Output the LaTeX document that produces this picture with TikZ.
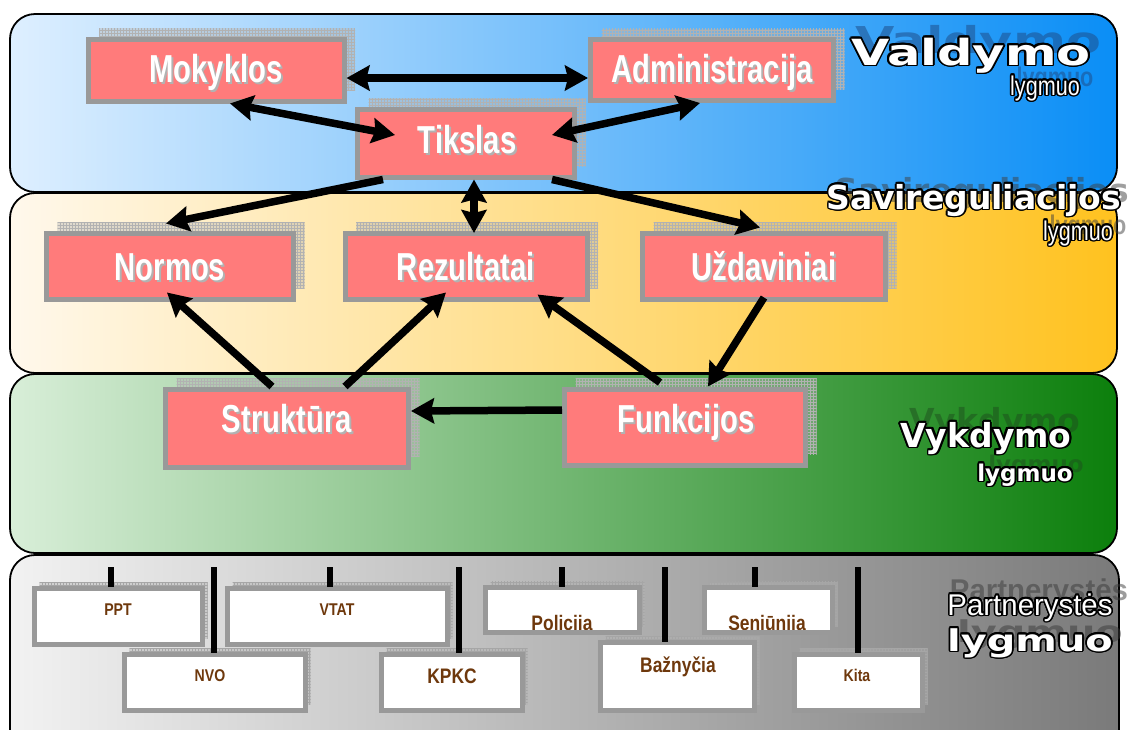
\documentclass[tikz,border=0pt]{standalone}
\usepackage{fontspec}
\setmainfont{Liberation Sans}
\newfontfamily\boxfont[FakeStretch=0.75]{Liberation Sans}
\newfontfamily\smallfont[FakeStretch=0.83]{Liberation Sans}
\newfontfamily\narfont[FakeStretch=0.8]{Liberation Sans}
\newfontfamily\partfont[FakeStretch=0.98]{Liberation Sans}
\newfontfamily\vfont[FakeStretch=1.375]{DejaVu Sans}
\newfontfamily\dvfont{DejaVu Sans}
\newfontfamily\lwfont[FakeStretch=1.33]{DejaVu Sans}
\usepackage{contour}
\contourlength{1.6pt}
\usetikzlibrary{arrows.meta,shadows,patterns}
\definecolor{bAl}{HTML}{DEEFFF}
\definecolor{bAm}{HTML}{A6CBF6}
\definecolor{bAr}{HTML}{0A8EF6}
\definecolor{bBl}{HTML}{FFF8EC}
\definecolor{bBm}{HTML}{FEDCA2}
\definecolor{bBr}{HTML}{FFC21F}
\definecolor{bCl}{HTML}{D8EED8}
\definecolor{bCm}{HTML}{9CC69C}
\definecolor{bCr}{HTML}{0C7F0C}
\definecolor{bDl}{HTML}{F2F2F2}
\definecolor{bDm}{HTML}{BEBEBE}
\definecolor{bDr}{HTML}{7A7A7A}
\definecolor{boxred}{HTML}{FF7B7B}
\definecolor{boxgray}{HTML}{999999}
\definecolor{brownc}{HTML}{6E380C}
\definecolor{shA}{HTML}{1E4F8C}
\definecolor{shB}{HTML}{404040}
\definecolor{shC}{HTML}{1E4E1E}
\definecolor{shD}{HTML}{3A3A3A}
\newcommand\rtext[4]{%
  \node[rlabsh] (#1s) at (#2+2,#3+2) {#4};
  \node[rlab] (#1) at (#2,#3) {#4};}
\begin{document}
\begin{tikzpicture}[x=1pt,y=-1pt,
  band/.style={draw=black, line width=1.8pt, rounded corners=25pt},
  rbox/.style={draw=boxgray, line width=5pt, fill=boxred, inner sep=0pt,
    general shadow={shadow xshift=11pt, shadow yshift=11pt, fill=black!30, opacity=0.4},
    general shadow={shadow xshift=11pt, shadow yshift=11pt, pattern=grid, pattern color=black!30}},
  wbox/.style={draw=boxgray, line width=5pt, fill=white, inner sep=0pt,
    general shadow={shadow xshift=5pt, shadow yshift=6pt, fill=black!30, opacity=0.45},
    general shadow={shadow xshift=5pt, shadow yshift=6pt, pattern=grid, pattern color=black!35}},
  rlab/.style={anchor=base, inner sep=0pt, text=white, font=\boxfont\bfseries\fontsize{39}{40}\selectfont},
  rlabsh/.style={rlab, text=black!30},
  btext/.style={anchor=base, inner sep=0pt, text=brownc, font=\smallfont\bfseries\fontsize{17}{18}\selectfont},
  btextL/.style={btext, font=\smallfont\bfseries\fontsize{21}{22}\selectfont},
  head/.style={anchor=base, inner sep=0pt, text=white},
  tip/.tip={Stealth[length=23pt,width=25pt,inset=3pt]},
  arr/.style={line width=7.5pt, -tip},
  darr/.style={line width=7.5pt, tip-tip},
  bar/.style={line width=5.5pt}]
\useasboundingbox (0,0) rectangle (1133,729);
\clip (0,0) rectangle (1133,729);
\fill[white] (0,0) rectangle (1133,729);
% bands
\draw[band, left color=bDl, middle color=bDm, right color=bDr] (10,555) rectangle (1119,770);
\draw[band, left color=bCl, middle color=bCm, right color=bCr] (10,374) rectangle (1117,553);
\draw[band, left color=bBl, middle color=bBm, right color=bBr] (10,193) rectangle (1117,373);
\draw[band, left color=bAl, middle color=bAm, right color=bAr] (10,14) rectangle (1117,192);

% heading shadows
\node[head, text=shA, text opacity=0.55, font=\vfont\bfseries\fontsize{37}{40}\selectfont] (hvs) at (978,53) {Valdymo};
\node[head, text=shA, text opacity=0.55, font=\narfont\bfseries\fontsize{27}{30}\selectfont] (hvls) at (1055,86) {lygmuo};
\node[head, text=shB, text opacity=0.5, font=\dvfont\bfseries\fontsize{33}{36}\selectfont] (hss) at (982,202) {Savireguliacijos};
\node[head, text=shB, text opacity=0.5, font=\narfont\bfseries\fontsize{27}{30}\selectfont] (hsls) at (1088,234) {lygmuo};
\node[head, text=shC, text opacity=0.5, font=\dvfont\bfseries\fontsize{33}{36}\selectfont] (hks) at (995,432) {Vykdymo};
\node[head, text=shC, text opacity=0.5, font=\dvfont\bfseries\fontsize{23}{26}\selectfont] (hkls) at (1036,472) {lygmuo};
\node[head, text=shD, text opacity=0.5, font=\partfont\bfseries\fontsize{30}{32}\selectfont] (hps) at (1039,600) {Partnerystės};
\node[head, text=shD, text opacity=0.5, font=\lwfont\bfseries\fontsize{30}{32}\selectfont] (hpls) at (1040,642) {lygmuo};

% headings (white text with black outline)
\node[head, font=\vfont\bfseries\fontsize{36}{40}\selectfont] (hv) at (971,65) {\contour{black}{Valdymo}};
\node[head, font=\narfont\fontsize{27}{30}\selectfont] (hvl) at (1045,95) {\contour{black}{lygmuo}};
\node[head, font=\dvfont\bfseries\fontsize{33}{36}\selectfont] (hs) at (974,209) {\contour{black}{Savireguliacijos}};
\node[head, font=\narfont\fontsize{27}{30}\selectfont] (hsl) at (1078,240) {\contour{black}{lygmuo}};
\node[head, font=\dvfont\bfseries\fontsize{33}{36}\selectfont] (hk) at (986,447) {\contour{black}{Vykdymo}};
\node[head, font=\dvfont\bfseries\fontsize{23}{26}\selectfont] (hkl) at (1025,481) {\contour{black}{lygmuo}};
\node[head, font=\partfont\fontsize{30}{32}\selectfont] (hp) at (1030,615) {\contour{black}{Partnerystės}};
\node[head, font=\lwfont\bfseries\fontsize{30}{32}\selectfont] (hpl) at (1030,651) {\contour{black}{lygmuo}};

% red boxes
\node[rbox, minimum width=256pt, minimum height=62pt] (mok) at (216,70) {};
\node[rbox, minimum width=243pt, minimum height=61pt] (adm) at (712,70) {};
\node[rbox, minimum width=217pt, minimum height=68pt] (tik) at (466,143) {};
\node[rbox, minimum width=247pt, minimum height=66pt] (nor) at (170,266) {};
\node[rbox, minimum width=242pt, minimum height=66pt] (rez) at (466,266) {};
\node[rbox, minimum width=243pt, minimum height=66pt] (uzd) at (764,266) {};
\node[rbox, minimum width=243pt, minimum height=78pt] (str) at (287,428) {};
\node[rbox, minimum width=241pt, minimum height=76pt] (fun) at (685,427) {};

\rtext{tmok}{216}{82}{Mokyklos}
\rtext{tadm}{712}{82}{Administracija}
\rtext{ttik}{467}{153}{Tikslas}
\rtext{tnor}{170}{280}{Normos}
\rtext{trez}{466}{280}{Rezultatai}
\rtext{tuzd}{764}{280}{Uždaviniai}
\rtext{tstr}{287}{432}{Struktūra}
\rtext{tfun}{686}{432}{Funkcijos}

% arrows
\draw[darr] ([yshift=-8pt]mok.east) -- ([yshift=-8pt]adm.west);
\draw[darr] ([xshift=14pt]mok.south) -- ([xshift=40pt,yshift=8pt]tik.west);
\draw[darr] ([xshift=-25pt,yshift=8pt]tik.east) -- ([xshift=-12pt]adm.south);
\draw[arr] ([xshift=28pt]tik.south west) -- ([xshift=-4pt,yshift=7pt]nor.north);
\draw[darr] ([xshift=8pt]tik.south) -- ([xshift=8pt,yshift=-2.5pt]rez.north);
\draw[arr] ([xshift=-25pt]tik.south east) -- ([xshift=-4pt,yshift=3pt]uzd.north);
\draw[arr] ([xshift=-15pt]str.north) -- ([xshift=-3pt,yshift=9pt]nor.south);
\draw[arr] ([xshift=58pt]str.north) -- ([xshift=-20pt,yshift=9pt]rez.south);
\draw[arr] ([xshift=-25pt,yshift=4pt]fun.north) -- ([xshift=-52pt,yshift=7pt]rez.south east);
\draw[arr] ([xshift=0pt,yshift=4pt]uzd.south) -- ([xshift=23pt,yshift=0pt]fun.north);
\draw[arr] ([yshift=17pt]fun.west) -- ([yshift=17pt]str.east);

% partner boxes
\node[wbox, minimum width=168pt, minimum height=56pt] (ppt) at (118.5,616.5) {};
\node[wbox, minimum width=220pt, minimum height=56pt] (vtat) at (337.5,616.5) {};
\node[wbox, minimum width=154pt, minimum height=45pt] (pol) at (562.5,610) {};
\node[wbox, minimum width=128pt, minimum height=45pt] (sen) at (768.5,610) {};
\node[wbox, minimum width=181pt, minimum height=56pt] (nvo) at (215,682.5) {};
\node[wbox, minimum width=141pt, minimum height=56pt] (kpkc) at (452,682.5) {};
\node[wbox, minimum width=154pt, minimum height=68pt] (baz) at (677.5,676.5) {};
\node[wbox, minimum width=128pt, minimum height=56pt] (kita) at (858.5,682.5) {};

\node[btext] (tppt) at (118,615) {PPT};
\node[btext] (tvtat) at (337,615) {VTAT};
\node[btext] (tnvo) at (210,681) {NVO};
\node[btextL] (tkpkc) at (452,683) {KPKC};
\node[btextL] (tbaz) at (678,672) {Bažnyčia};
\node[btext] (tkita) at (857,681) {Kita};
\begin{scope}
  \clip ([xshift=5pt,yshift=-5pt]pol.north west) rectangle ([xshift=-5pt,yshift=6pt]pol.south east);
  \node[btextL] (tpol) at (562,630) {Policija};
\end{scope}
\begin{scope}
  \clip ([xshift=5pt,yshift=-5pt]sen.north west) rectangle ([xshift=-5pt,yshift=6pt]sen.south east);
  \node[btextL] (tsen) at (767,630) {Seniūnija};
\end{scope}

% bars
\coordinate (c1) at (111,567);
\coordinate (c2) at (214,567);
\coordinate (c3) at (330,567);
\coordinate (c4) at (459,567);
\coordinate (c5) at (562,567);
\coordinate (c6) at (665,567);
\coordinate (c7) at (755,567);
\coordinate (c8) at (858,567);
\draw[bar] (c1) -- ([xshift=-7.5pt,yshift=-1pt]ppt.north);
\draw[bar] (c2) -- ([xshift=-1pt,yshift=-1pt]nvo.north);
\draw[bar] (c3) -- ([xshift=-7.5pt,yshift=-1pt]vtat.north);
\draw[bar] (c4) -- ([xshift=7pt,yshift=-1pt]kpkc.north);
\draw[bar] (c5) -- ([xshift=-0.5pt,yshift=-2pt]pol.north);
\draw[bar] (c6) -- ([xshift=-12.5pt,yshift=-2pt]baz.north);
\draw[bar] (c7) -- ([xshift=-13.5pt,yshift=-2pt]sen.north);
\draw[bar] (c8) -- ([xshift=-0.5pt,yshift=-1pt]kita.north);
\end{tikzpicture}
\end{document}
